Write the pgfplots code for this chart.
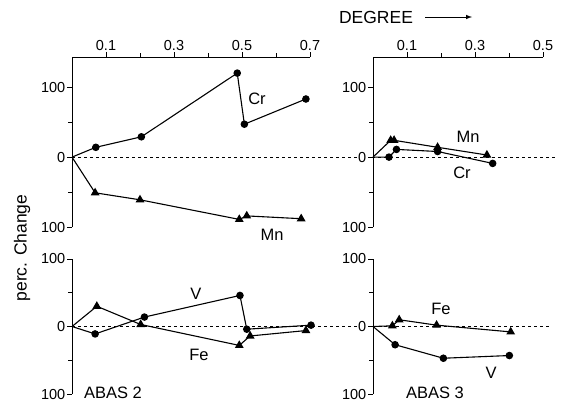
\documentclass[border=0pt]{standalone}
\usepackage{fontspec}
\setmainfont{Liberation Sans}
\usepackage{pgfplots}
\pgfplotsset{compat=1.18}

% one pt in the picture = one pixel of the reference
\pgfplotsset{
  panel/.style={
    x=340pt, xmin=0, clip=false,
    anchor=north west,
    axis y line*=left,
    axis line style={-, line width=0.9pt},
    ytick={-100,0,100}, yticklabels={100,0,100},
    minor ytick={-50,50},
    tick align=outside,
    major tick length=5pt, minor tick length=4pt,
    every tick/.style={black, line width=0.9pt},
    tick label style={font=\fontsize{14.5}{16}\selectfont, fill=white, inner sep=1.5pt},
  },
  toppanel/.style={
    axis x line*=top, y=0.7pt, ymin=-100, ymax=143,
  },
  lowpanel/.style={
    axis x line=none, y=0.675pt, ymin=-100, ymax=100,
  },
  circ/.style={black, line width=1.1pt, mark=*, mark size=3.2pt,
    mark indices={2,3,4,5,6}},
  tri/.style={black, line width=1.1pt, mark=triangle*, mark size=4pt,
    mark indices={2,3,4,5,6}},
}
\tikzset{zero/.style={black, line width=0.6pt, dash pattern=on 3pt off 3pt}}
\newcommand{\lab}{\fontsize{16.5}{18}\selectfont}

\begin{document}
\begin{tikzpicture}
\useasboundingbox (0,0) rectangle (562pt,-405pt);

% ABAS 2, upper
\begin{axis}[panel, toppanel, at={(72pt,-57pt)}, xmax=0.7,
    xtick={0.1,0.3,0.5,0.7}, xticklabels={0.1,0.3,0.5,0.7},
    minor xtick={0.2,0.4,0.6}]
\draw[zero] (axis cs:0,0) -- (axis cs:1.425,0);
\addplot[circ] coordinates {
    (0,0)(0.070,14)(0.204,29)(0.486,120)(0.507,47)(0.688,83)
};
\addplot[tri] coordinates {
    (0,0)(0.068,-51)(0.200,-61)(0.492,-89)(0.514,-84)(0.674,-88)
};
\end{axis}

% ABAS 3, upper
\begin{axis}[panel, toppanel, at={(373pt,-57pt)}, xmax=0.5,
    xtick={0.1,0.3,0.5}, xticklabels={0.1,0.3,0.5},
    minor xtick={0.2,0.4}]
\addplot[circ] coordinates {
    (0,0)(0.047,0)(0.069,11)(0.190,8)(0.352,-9)
};
\addplot[tri] coordinates {
    (0,0)(0.052,24)(0.062,24)(0.190,14)(0.335,3)
};
\end{axis}

% ABAS 2, lower
\begin{axis}[panel, lowpanel, at={(72pt,-259pt)}, xmax=0.7]
\draw[zero] (axis cs:0,0) -- (axis cs:1.41,0);
\addplot[circ] coordinates {
    (0,0)(0.068,-11)(0.213,14)(0.494,46)(0.514,-4)(0.703,2)
};
\addplot[tri] coordinates {
    (0,0)(0.073,30)(0.202,3)(0.492,-28)(0.524,-14)(0.688,-6)
};
\end{axis}

% ABAS 3, lower
\begin{axis}[panel, lowpanel, at={(373pt,-259pt)}, xmax=0.5]
\addplot[tri] coordinates {
    (0,0)(0.057,1)(0.077,10)(0.187,2)(0.405,-8)
};
\addplot[circ] coordinates {
    (0,0)(0.065,-27)(0.207,-47)(0.401,-43)
};
\end{axis}

% text
\node[font=\fontsize{17.5}{19}\selectfont] at (376pt,-17pt) {DEGREE};
\draw[-latex, line width=1pt] (425pt,-17pt) -- (472pt,-17pt);
\node[font=\fontsize{17.5}{19}\selectfont, rotate=90] at (22pt,-248pt) {perc. Change};
\node[font=\lab] at (257pt,-99pt) {Cr};
\node[font=\lab] at (272pt,-235pt) {Mn};
\node[font=\lab] at (468pt,-137pt) {Mn};
\node[font=\lab] at (462pt,-173pt) {Cr};
\node[font=\lab] at (196pt,-294pt) {V};
\node[font=\lab] at (199pt,-355pt) {Fe};
\node[font=\lab] at (441pt,-309pt) {Fe};
\node[font=\lab] at (491pt,-373pt) {V};
\node[font=\lab] at (113pt,-393pt) {ABAS 2};
\node[font=\lab] at (435pt,-393pt) {ABAS 3};
\end{tikzpicture}
\end{document}
